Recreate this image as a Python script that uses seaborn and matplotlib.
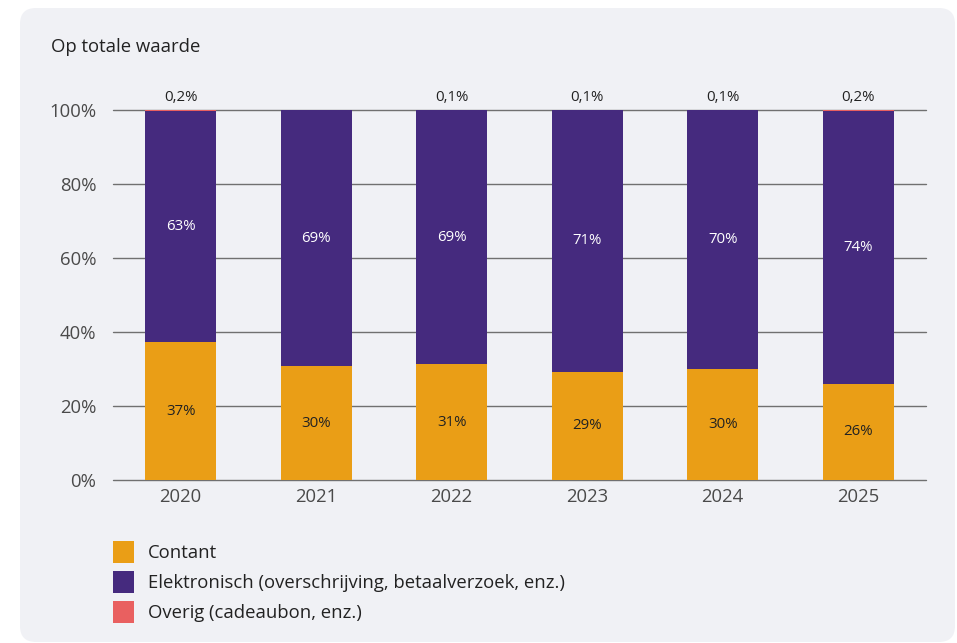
import pandas as pd
import seaborn as sns
from matplotlib import pyplot as plt
from matplotlib.patches import FancyBboxPatch, Patch
from matplotlib.transforms import IdentityTransform

# values (percent of total value)
years = ['2020', '2021', '2022', '2023', '2024', '2025']
cash = [37.2, 30.8, 31.3, 29.3, 30.1, 26.0]
electronic = [62.6, 69.2, 68.6, 70.6, 69.8, 73.8]
other = [0.2, 0.0, 0.1, 0.1, 0.1, 0.2]
cash_labels = ['37%', '30%', '31%', '29%', '30%', '26%']
elec_labels = ['63%', '69%', '69%', '71%', '70%', '74%']
other_labels = ['0,2%', '', '0,1%', '0,1%', '0,1%', '0,2%']

series_names = ['Contant', 'Elektronisch (overschrijving, betaalverzoek, enz.)', 'Overig (cadeaubon, enz.)']
colors = ['#EA9E16', '#452A7E', '#E96060']

df = pd.DataFrame({'year': years, 'cash': cash, 'electronic': electronic, 'other': other})
df['cash_elec'] = df.cash + df.electronic
df['total'] = df.cash_elec + df.other

sns.set_style('white')
plt.rcParams['font.family'] = ['Open Sans', 'DejaVu Sans']

fig = plt.figure(figsize=(9.57, 6.43), dpi=100, facecolor='white')
panel = FancyBboxPatch((20, 1), 935, 634, boxstyle='round,pad=0,rounding_size=16',
                       transform=IdentityTransform(), facecolor='#F0F1F5', edgecolor='none', zorder=-5)
fig.patches.append(panel)

ax = fig.add_axes([0.118, 0.2535, 0.8495, 0.5754])
ax.patch.set_alpha(0)

# stacked bars: draw cumulative heights from the top segment down
for col, c in zip(['total', 'cash_elec', 'cash'], colors[::-1]):
    sns.barplot(data=df, x='year', y=col, color=c, width=0.525, saturation=1,
                linewidth=0, ax=ax, zorder=3)

ax.set_xlim(-0.5, 5.5)
ax.set_ylim(0, 100)
ax.set_yticks(range(0, 101, 20))
ax.set_yticklabels([f'{v}%' for v in range(0, 101, 20)])
for v in range(0, 101, 20):
    ax.axhline(v, color='#707070', lw=1.0, zorder=1, clip_on=False)
ax.set_xlabel('')
ax.set_ylabel('')
sns.despine(ax=ax, left=True, bottom=True)
ax.tick_params(axis='both', length=0, labelsize=13.3, labelcolor='#4a4a4a')
ax.tick_params(axis='y', pad=12)
ax.tick_params(axis='x', pad=6)

for i in range(len(years)):
    ax.text(i, cash[i] / 2, cash_labels[i], ha='center', va='center',
            fontsize=10.8, color='#222222', zorder=5)
    ax.text(i, cash[i] + electronic[i] / 2, elec_labels[i], ha='center', va='center',
            fontsize=10.8, color='white', zorder=5)
    if other_labels[i]:
        ax.text(i, 101.3, other_labels[i], ha='center', va='bottom', fontsize=10.8, color='#222222')

fig.text(51 / 957, 1 - 47 / 643, 'Op totale waarde', fontsize=13.3, color='#222222', va='center')

handles = [Patch(facecolor=c, edgecolor='none') for c in colors]
fig.legend(handles, series_names, loc='upper left', bbox_to_anchor=(96 / 957, 1 - 524 / 643),
           frameon=False, fontsize=13.3, handlelength=1.15, handleheight=1.45,
           handletextpad=0.75, labelspacing=0.45, labelcolor='#222222')

fig.savefig('out.png', dpi=100, facecolor='white')
